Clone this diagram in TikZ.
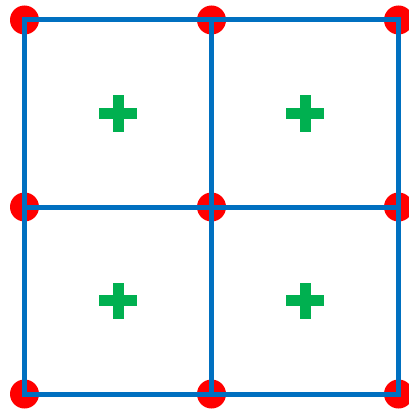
\documentclass[tikz,border=0pt]{standalone}
\definecolor{dotred}{HTML}{FF0000}
\definecolor{gridblue}{HTML}{0070C0}
\definecolor{plusgreen}{HTML}{00B050}
\tikzset{
  dot/.style={circle,fill=dotred,draw=none,minimum size=29pt,inner sep=0pt},
  gridline/.style={draw=gridblue,line width=5pt,line cap=rect},
}
\newcommand{\plussign}[1]{%
  \fill[plusgreen] ($(#1)+(-19,-5.5)$) rectangle ($(#1)+(19,5.5)$);
  \fill[plusgreen] ($(#1)+(-5.5,-18)$) rectangle ($(#1)+(5.5,18)$);
}
\usetikzlibrary{calc}
\begin{document}
\begin{tikzpicture}[x=1pt,y=-1pt]
\useasboundingbox (0,0) rectangle (409,409);
% grid points
\foreach \i/\x in {0/24.5,1/211.5,2/398.5}{
  \foreach \j/\y in {0/20,1/207,2/394}{
    \coordinate (p\i\j) at (\x,\y);
    \node[dot] (d\i\j) at (p\i\j) {};
  }
}
% grid lines
\foreach \i in {0,1,2}{
  \draw[gridline] (p\i0) -- (p\i2);
  \draw[gridline] (p0\i) -- (p2\i);
}
% plus signs
\coordinate (c00) at (118,113.5);
\coordinate (c10) at (305,113.5);
\coordinate (c01) at (118,300.5);
\coordinate (c11) at (305,300.5);
\plussign{c00}
\plussign{c10}
\plussign{c01}
\plussign{c11}
\end{tikzpicture}
\end{document}
